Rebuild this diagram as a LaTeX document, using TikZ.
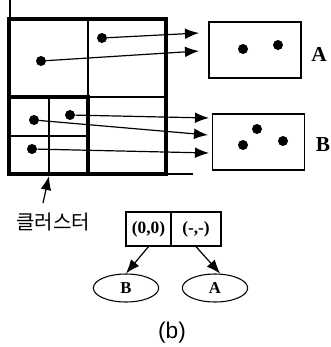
\documentclass[tikz,border=0pt]{standalone}
\usepackage{fontspec}
\setmainfont{Liberation Serif}
\newfontfamily\krfont{Noto Sans CJK KR}
\newfontfamily\capfont{Liberation Sans}
\usetikzlibrary{arrows.meta,shapes.geometric}

\begin{document}
\begin{tikzpicture}[x=0.75pt,y=-0.75pt,
  every node/.style={align=center},
  heavy/.style={draw=black, line width=2.3pt},
  thin/.style={draw=black, line width=0.9pt},
  dot/.style={circle, fill=black, inner sep=0pt, minimum size=7.5pt},
  arrow/.style={draw=black, line width=0.9pt, -{Latex[length=10.5pt,width=8pt]}},
  region/.style={draw=black, line width=0.9pt, minimum width=69pt, minimum height=42pt},
  cell/.style={draw=black, line width=0.9pt, minimum height=25.5pt, inner sep=0pt, font=\bfseries\fontsize{13}{14}\selectfont},
  leaf/.style={draw=black, ellipse, line width=0.8pt, minimum width=49pt, minimum height=21pt, inner sep=0pt, font=\bfseries\fontsize{12.5}{14}\selectfont},
  tag/.style={font=\bfseries\fontsize{16}{17}\selectfont}
]
\useasboundingbox (0,0) rectangle (330,347);

% grid
\draw[thin] (10,0) -- (10,19);
\draw[thin] (166,174) -- (193,174);
\draw[thin] (88,19) -- (88,97) (88,97) -- (166,97);
\draw[thin] (49,97) -- (49,174) (9,136) -- (88,136);
\draw[heavy] (9,19) rectangle (166,174);
\draw[heavy] (9,97) rectangle (88,174);

\node[dot] (g1) at (102,38) {};
\node[dot] (g2) at (41,61) {};
\node[dot] (g3) at (70,115) {};
\node[dot] (g4) at (34,120) {};
\node[dot] (g5) at (32,149) {};

% regions
\node[region] (boxA) at (255,50) {};
\node[region] (boxB) at (258.5,142) {};
\node[tag] (labA) at (319,54) {A};
\node[tag] (labB) at (323,145) {B};

\node[dot] (a1) at (243,49) {};
\node[dot] (a2) at (278,45) {};
\node[dot] (b1) at (257,129) {};
\node[dot] (b2) at (243,145) {};
\node[dot] (b3) at (283,141) {};

\coordinate (tA1) at (199,33);
\coordinate (tA2) at (199,51);
\coordinate (tB1) at (209,118);
\coordinate (tB2) at (208,135);
\coordinate (tB3) at (209,153);

\draw[arrow] (g1) -- (tA1);
\draw[arrow] (g2) -- (tA2);
\draw[arrow] (g3) -- (tB1);
\draw[arrow] (g4) -- (tB2);
\draw[arrow] (g5) -- (tB3);

% cluster
\node[font=\krfont\fontsize{15}{16}\selectfont] (clu) at (53,222) {클러스터};
\coordinate (cTail) at (43,203);
\coordinate (cTip) at (49,176);
\draw[arrow] (cTail) -- (cTip);

% tree
\node[cell, minimum width=33.75pt] (rec0) at (148.5,229) {(0,0)};
\node[cell, minimum width=37.5pt] (rec1) at (196,229) {(-,-)};
\node[leaf] (leafB) at (126,288) {B};
\node[leaf] (leafA) at (215,288) {A};
\draw[arrow] (rec0.south) -- (leafB.north);
\draw[arrow] (rec1.south) -- (leafA.70);

\node[font=\capfont\fontsize{17}{18}\selectfont] (cap) at (172,333) {(b)};
\end{tikzpicture}
\end{document}
